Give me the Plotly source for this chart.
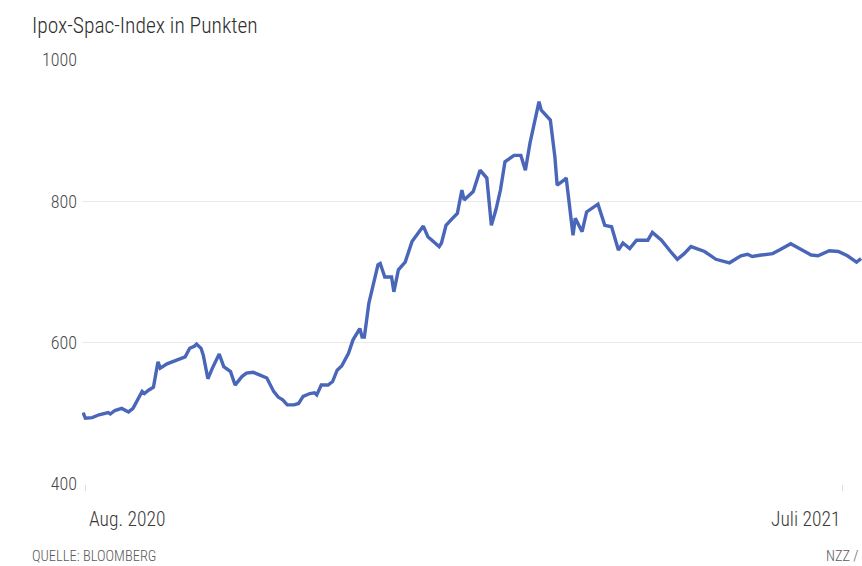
import plotly.graph_objects as go

dates = [
    "2020-07-31", "2020-08-01", "2020-08-04", "2020-08-07", "2020-08-11", "2020-08-12",
    "2020-08-14", "2020-08-17", "2020-08-20", "2020-08-22", "2020-08-26", "2020-08-27",
    "2020-08-29", "2020-08-31", "2020-09-02", "2020-09-03", "2020-09-06", "2020-09-09",
    "2020-09-12", "2020-09-14", "2020-09-16", "2020-09-18", "2020-09-19", "2020-09-21",
    "2020-09-22", "2020-09-24", "2020-09-26", "2020-09-29", "2020-10-01", "2020-10-04",
    "2020-10-06", "2020-10-09", "2020-10-11", "2020-10-14", "2020-10-17", "2020-10-20",
    "2020-10-23", "2020-10-25", "2020-10-27", "2020-10-29", "2020-11-01", "2020-11-03",
    "2020-11-05", "2020-11-08", "2020-11-10", "2020-11-11", "2020-11-13", "2020-11-16",
    "2020-11-18", "2020-11-20", "2020-11-22", "2020-11-25", "2020-11-27", "2020-11-30",
    "2020-12-01", "2020-12-02", "2020-12-04", "2020-12-06", "2020-12-08", "2020-12-09",
    "2020-12-11", "2020-12-14", "2020-12-15", "2020-12-17", "2020-12-20", "2020-12-23",
    "2020-12-28", "2020-12-30", "2021-01-04", "2021-01-05", "2021-01-07", "2021-01-09",
    "2021-01-12", "2021-01-14", "2021-01-15", "2021-01-19", "2021-01-22", "2021-01-25",
    "2021-01-27", "2021-01-29", "2021-01-31", "2021-02-02", "2021-02-06", "2021-02-09",
    "2021-02-11", "2021-02-13", "2021-02-17", "2021-02-18", "2021-02-22", "2021-02-24",
    "2021-02-25", "2021-02-28", "2021-03-01", "2021-03-04", "2021-03-05", "2021-03-08",
    "2021-03-10", "2021-03-15", "2021-03-18", "2021-03-21", "2021-03-24", "2021-03-26",
    "2021-03-29", "2021-04-01", "2021-04-06", "2021-04-08", "2021-04-12", "2021-04-16",
    "2021-04-19", "2021-04-22", "2021-04-25", "2021-05-01", "2021-05-06", "2021-05-12",
    "2021-05-17", "2021-05-20", "2021-05-22", "2021-05-26", "2021-05-31", "2021-06-03",
    "2021-06-08", "2021-06-12", "2021-06-17", "2021-06-20", "2021-06-25", "2021-06-29",
    "2021-07-03", "2021-07-07", "2021-07-09",
]

index_values = [
    501, 493, 494, 498, 501, 499,
    504, 507, 502, 507, 531, 528,
    533, 537, 573, 564, 570, 574,
    578, 580, 592, 595, 598, 592,
    582, 549, 564, 584, 566, 559,
    540, 552, 557, 558, 554, 550,
    531, 523, 519, 512, 512, 514,
    524, 528, 529, 526, 540, 540,
    545, 561, 567, 585, 604, 620,
    608, 608, 656, 684, 710, 712,
    693, 693, 672, 703, 714, 743,
    765, 750, 736, 741, 766, 773,
    783, 816, 802, 814, 844, 833,
    766, 788, 816, 856, 865, 865,
    844, 882, 941, 929, 915, 863,
    823, 830, 833, 752, 776, 757,
    785, 796, 766, 764, 731, 741,
    733, 745, 745, 756, 745, 729,
    718, 726, 736, 729, 718, 713,
    723, 725, 722, 724, 726, 731,
    740, 733, 724, 723, 730, 729,
    723, 714, 719,
]

y_ticks = [400, 600, 800, 1000]
x_tick_dates = ["2020-08-01", "2021-07-01"]
x_tick_labels = ["Aug. 2020", "Juli 2021"]
x_tick_anchor = ["left", "right"]

FONT = "Roboto Condensed, Liberation Sans Narrow, DejaVu Sans Condensed, Roboto, sans-serif"

fig = go.Figure()
fig.add_trace(go.Scatter(
    x=dates, y=index_values, mode="lines",
    line=dict(color="#4a66b9", width=3.4),
    hoverinfo="skip",
))

fig.update_layout(
    width=862, height=566,
    margin=dict(l=82, r=0, t=60, b=82),
    paper_bgcolor="white", plot_bgcolor="white",
    showlegend=False,
    font=dict(family=FONT, color="#555555"),
)

fig.update_xaxes(
    type="date",
    range=["2020-07-30 12:00", "2021-07-09 10:00"],
    tickvals=x_tick_dates,
    showticklabels=False,
    ticks="outside", ticklen=6, tickcolor="#dddddd", tickwidth=1,
    showgrid=False, zeroline=False, showline=False,
)

fig.update_yaxes(
    range=[400, 1000],
    tickvals=y_ticks,
    ticktext=[str(v) for v in y_ticks],
    showgrid=True, gridcolor="#e8e8e8", gridwidth=1,
    zeroline=False, showline=False,
    tickfont=dict(size=18, color="#4a4a4a", family=FONT, weight=300),
    ticks="", ticklabelstandoff=4,
)

for d, t, a in zip(x_tick_dates, x_tick_labels, x_tick_anchor):
    fig.add_annotation(
        x=d, xref="x", y=0, yref="paper", yshift=-35,
        text=t, showarrow=False, xanchor=a, yanchor="middle",
        xshift=2 if a == "left" else -1,
        font=dict(size=19.5, color="#3a3a3a", family=FONT, weight=300),
    )

fig.add_annotation(
    x=-52 / 780, xref="paper", y=1, yref="paper",
    text="Ipox-Spac-Index in Punkten", showarrow=False,
    xanchor="left", yanchor="middle", yshift=35,
    font=dict(size=21.5, color="#2e2e2e", family=FONT, weight=300),
)

fig.add_annotation(
    x=-52 / 780, xref="paper", y=0, yref="paper", yshift=-72,
    text="QUELLE: BLOOMBERG", showarrow=False,
    xanchor="left", yanchor="middle",
    font=dict(size=14.5, color="#5a5a5a", family=FONT, weight=300),
)
fig.add_annotation(
    x=1, xref="paper", y=0, yref="paper", yshift=-72, xshift=-1,
    text="NZZ /", showarrow=False,
    xanchor="right", yanchor="middle",
    font=dict(size=14.5, color="#5a5a5a", family=FONT, weight=300),
)

fig.write_html("out.html")
